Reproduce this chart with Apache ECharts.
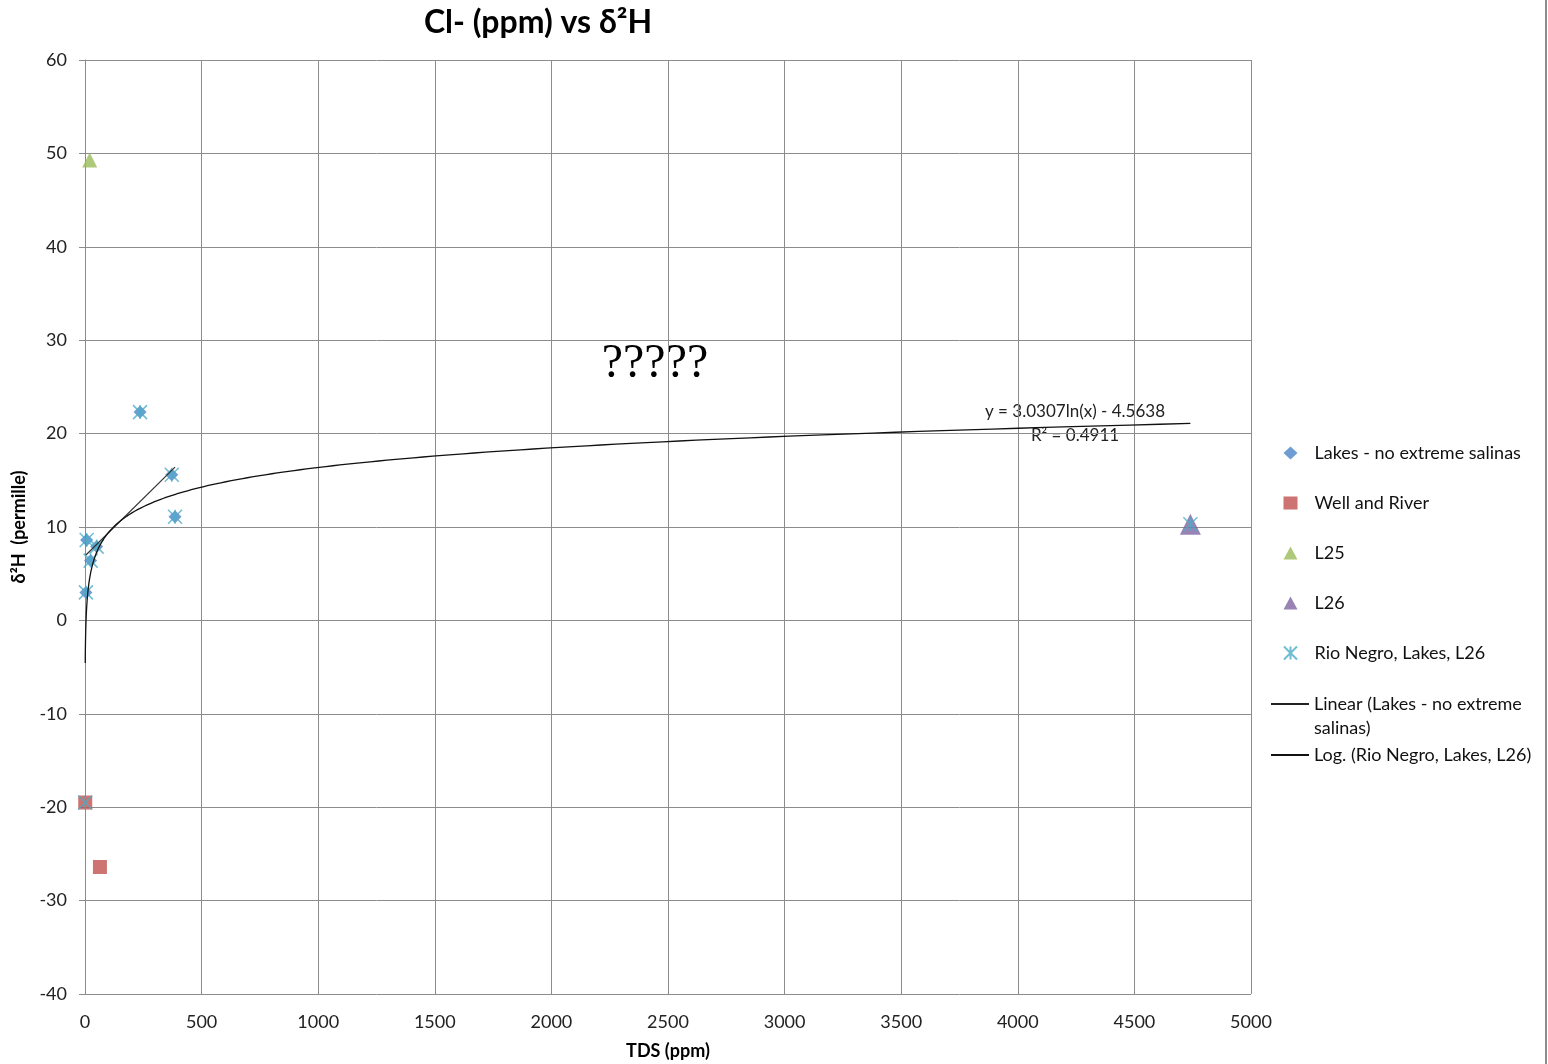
<!DOCTYPE html>
<html><head><meta charset="utf-8">
<script src="https://cdn.jsdelivr.net/npm/echarts@6/dist/echarts.min.js"></script>
<style>html,body{margin:0;padding:0;background:#fff}#c{width:1548px;height:1064px}</style>
</head><body><div id="c"></div>
<script>
// ---- data ----
const lakes = [[7, 8.6], [50, 7.9], [24, 6.4], [4, 3.0], [236, 22.3], [372, 15.6], [386, 11.1]];
const wellRiver = [[1, -19.5], [64, -26.4]];
const l25 = [[20, 49.3]];
const l26 = [[4740, 10.3]];
const rioNegro = [[1, -19.5], [4, 3.0], [7, 8.6], [24, 6.4], [50, 7.9], [236, 22.3], [372, 15.6], [386, 11.1], [4740, 10.3]];
// printed trendline coefficients
const logSlope = 3.0307, logIntercept = -4.5638, logR2 = 0.4911;
const xTicksMax = 5000, xTickStep = 500;
const yMin = -40, yMax = 60, yStep = 10;

// ---- linear trendline (least squares on lakes) ----
function linFit(pts) {
  const n = pts.length;
  const mx = pts.reduce((s, p) => s + p[0], 0) / n;
  const my = pts.reduce((s, p) => s + p[1], 0) / n;
  let sxy = 0, sxx = 0;
  pts.forEach(p => { sxy += (p[0] - mx) * (p[1] - my); sxx += (p[0] - mx) ** 2; });
  const b = sxy / sxx;
  return { b, a: my - b * mx };
}
const lf = linFit(lakes);
const lxs = lakes.map(p => p[0]);
const lxMin = Math.min(...lxs), lxMax = Math.max(...lxs);
const linLine = [[lxMin, lf.a + lf.b * lxMin], [lxMax, lf.a + lf.b * lxMax]];

// ---- log trendline from printed equation over series x range ----
const rxs = rioNegro.map(p => p[0]);
const rxMin = Math.min(...rxs), rxMax = Math.max(...rxs);
const logLine = [];
const N = 300;
for (let i = 0; i <= N; i++) {
  const x = rxMin * Math.pow(rxMax / rxMin, i / N);
  logLine.push([x, logSlope * Math.log(x) + logIntercept]);
}

const FONT = 'Lato';
const GRID = '#8c8c8c';
const LIN_NAME = 'Linear (Lakes - no extreme salinas)';
const LOG_NAME = 'Log. (Rio Negro, Lakes, L26)';
const chart = echarts.init(document.getElementById('c'));
chart.setOption({
  backgroundColor: '#fff',
  animation: false,
  textStyle: { fontFamily: FONT },
  title: {
    text: 'Cl- (ppm) vs δ²H',
    left: 533, top: 2, textAlign: 'center',
    textStyle: { fontFamily: FONT, fontSize: 32, fontWeight: 'bold', color: '#000' }
  },
  grid: { left: 85, right: 297, top: 60, bottom: 70, containLabel: false, outerBoundsMode: 'none' },
  xAxis: {
    type: 'value', min: 0, max: xTicksMax, interval: xTickStep,
    name: 'TDS (ppm)', nameLocation: 'middle', nameGap: 48,
    nameTextStyle: { fontFamily: FONT, fontSize: 18, fontWeight: 'bold', color: '#000' },
    axisLine: { show: true, lineStyle: { color: GRID, width: 1 } },
    axisTick: { show: true, length: 5, lineStyle: { color: GRID } },
    axisLabel: { fontFamily: FONT, fontSize: 18, color: '#222', margin: 19, formatter: v => String(v) },
    splitLine: { show: true, lineStyle: { color: GRID, width: 1 } }
  },
  yAxis: {
    type: 'value', min: yMin, max: yMax, interval: yStep,
    name: 'δ²H  (permille)', nameLocation: 'middle', nameGap: 49,
    nameTextStyle: { fontFamily: FONT, fontSize: 18, fontWeight: 'bold', color: '#000' },
    axisLine: { show: true, lineStyle: { color: GRID, width: 1 } },
    axisTick: { show: true, length: 6, lineStyle: { color: GRID } },
    axisLabel: { fontFamily: FONT, fontSize: 18, color: '#222', margin: 18, formatter: v => String(v) },
    splitLine: { show: true, lineStyle: { color: GRID, width: 1 } }
  },
  legend: [
    {
      orient: 'vertical', left: 1278, top: 436,
      itemWidth: 14, itemHeight: 13, itemGap: 26,
      textStyle: { fontFamily: FONT, fontSize: 18, color: '#111', lineHeight: 24,
        rich: { s: { width: 12 } } },
      data: ['Lakes - no extreme salinas', 'Well and River', 'L25', 'L26', 'Rio Negro, Lakes, L26'],
      formatter: n => '{s|}' + n
    },
    {
      orient: 'vertical', left: 1266, top: 687,
      itemWidth: 38, itemHeight: 2, itemGap: 27,
      textStyle: { fontFamily: FONT, fontSize: 18, color: '#111', lineHeight: 24 },
      data: [{ name: LIN_NAME, icon: 'rect' }, { name: LOG_NAME, icon: 'rect' }],
      formatter: n => n === LIN_NAME ? 'Linear (Lakes - no extreme' : n
    }
  ],
  series: [
    { name: 'Lakes - no extreme salinas', type: 'scatter', data: lakes, symbol: 'diamond', symbolSize: 13,
      itemStyle: { color: '#4a86c5' }, z: 3 },
    { name: 'Well and River', type: 'scatter', data: wellRiver, symbol: 'rect', symbolSize: 14,
      itemStyle: { color: '#c0504d' }, z: 3 },
    { name: 'L25', type: 'scatter', data: l25, symbol: 'triangle', symbolSize: 15,
      itemStyle: { color: '#9bbb59' }, z: 3 },
    { name: 'L26', type: 'scatter', data: l26, symbol: 'triangle', symbolSize: 21,
      itemStyle: { color: '#8064a2' }, z: 3 },
    { name: 'Rio Negro, Lakes, L26', type: 'scatter', data: rioNegro,
      symbol: 'path://M0,0L10,10M10,0L0,10M5,0L5,10', symbolSize: 14,
      itemStyle: { color: 'rgba(0,0,0,0)', borderColor: '#4bacc6', borderWidth: 1.5 }, z: 4 },
    { name: LIN_NAME, type: 'line', data: linLine, symbol: 'none',
      lineStyle: { color: '#333', width: 1.2 }, itemStyle: { color: '#222' }, z: 5 },
    { name: LOG_NAME, type: 'line', data: logLine, symbol: 'none',
      lineStyle: { color: '#111', width: 1.3 }, itemStyle: { color: '#111' }, z: 5 }
  ],
  graphic: [
    { type: 'text', x: 1314, y: 728, style: { text: 'salinas)', font: '18px Lato', fill: '#111', textVerticalAlign: 'middle' } },
    { type: 'text', x: 1075, y: 412, style: { text: 'y = ' + logSlope + 'ln(x) - ' + Math.abs(logIntercept), font: '17px Lato', fill: '#222', textAlign: 'center', textVerticalAlign: 'middle' } },
    { type: 'text', x: 1075, y: 436, style: { text: 'R² = ' + logR2, font: '17px Lato', fill: '#222', textAlign: 'center', textVerticalAlign: 'middle' } },
    { type: 'text', x: 655, y: 364, style: { text: '?????', font: '48px "Liberation Serif"', fill: '#000', textAlign: 'center', textVerticalAlign: 'middle' } },
    { type: 'line', shape: { x1: 1546, y1: 0, x2: 1546, y2: 1064 }, style: { stroke: GRID, lineWidth: 2 } }
  ]
});
</script>
</body></html>
